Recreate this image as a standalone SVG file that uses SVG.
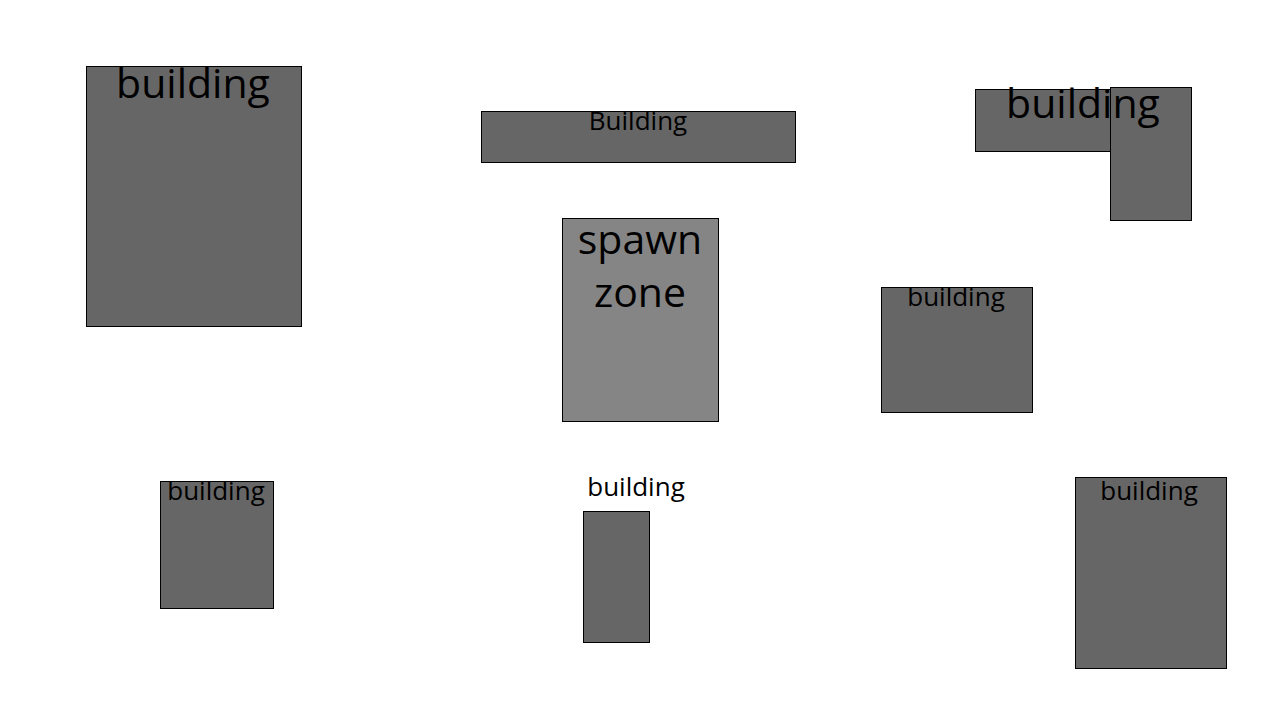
<svg xmlns="http://www.w3.org/2000/svg" width="1280" height="720" viewBox="0 0 1280 720">
<style>
.b{fill:#666666;stroke:#000;stroke-width:1}
.s{fill:#858585;stroke:#000;stroke-width:1}
text{font-family:"Open Sans","Liberation Sans",sans-serif;fill:#000;text-anchor:middle}
.L{font-size:41px}
.M{font-size:26px}
</style>
<rect width="1280" height="720" fill="#fff"/>
<g id="building1"><rect class="b" x="86.5" y="66.5" width="215" height="260"/><text class="L" x="193" y="98">building</text></g>
<g id="building2"><rect class="b" x="481.5" y="111.5" width="314" height="51"/><text class="M" x="638" y="130">Building</text></g>
<g id="building3"><rect class="b" x="975.5" y="89.5" width="140" height="62"/><rect class="b" x="1110.5" y="87.5" width="81" height="133"/><text class="L" x="1083" y="118">building</text></g>
<g id="spawn"><rect class="s" x="562.5" y="218.5" width="156" height="203"/><text class="L" x="640" y="254">spawn</text><text class="L" x="640" y="307">zone</text></g>
<g id="building4"><rect class="b" x="881.5" y="287.5" width="151" height="125"/><text class="M" x="956" y="306">building</text></g>
<g id="building5"><rect class="b" x="160.5" y="481.5" width="113" height="127"/><text class="M" x="216" y="500">building</text></g>
<g id="building6"><text class="M" x="636" y="496">building</text><rect class="b" x="583.5" y="511.5" width="66" height="131"/></g>
<g id="building7"><rect class="b" x="1075.5" y="477.5" width="151" height="191"/><text class="M" x="1149" y="500">building</text></g>
<g id="connectors"/>
</svg>
